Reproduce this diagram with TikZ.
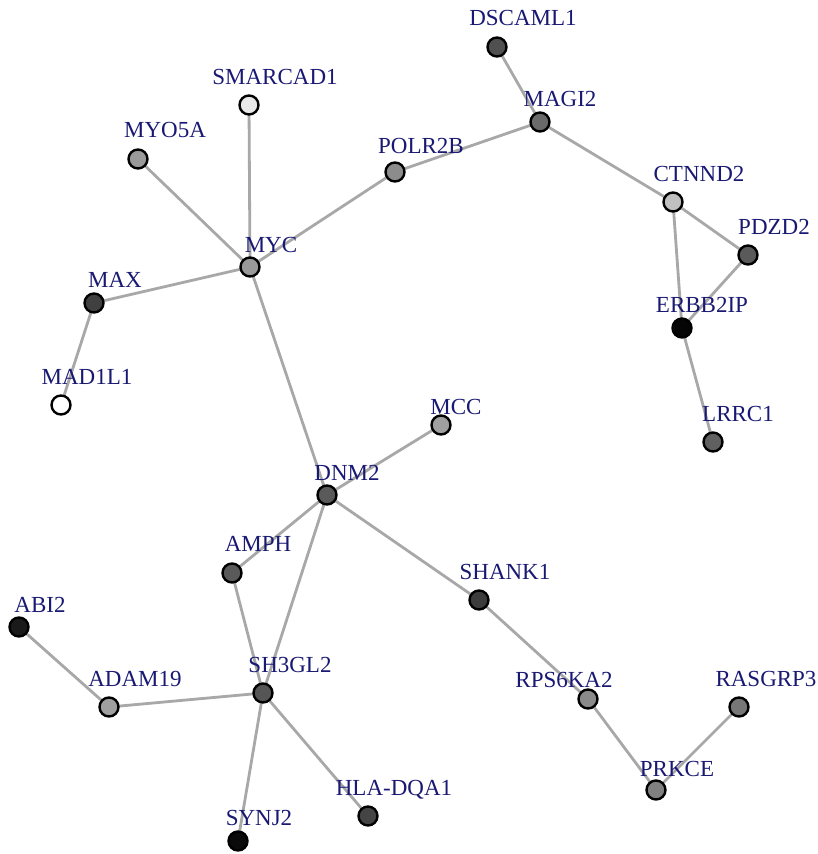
\documentclass[tikz,border=0pt]{standalone}
\usepackage{fontspec}
\setmainfont{Liberation Serif}
\newfontfamily\labfont{Liberation Serif}
\usetikzlibrary{backgrounds}
\definecolor{lab}{RGB}{25,25,115}
\definecolor{edgec}{RGB}{168,168,168}
\tikzset{
  gn/.style={circle, draw=black, line width=2.4pt, minimum size=19pt, inner sep=0pt},
  edge/.style={draw=edgec, line width=2.8pt},
  lbl/.style={text=lab, font=\labfont\fontsize{23}{23}\selectfont, anchor=base, inner sep=0pt}
}
\newcommand{\gnode}[4]{% name, x, y, fill gray (0-255)
  \definecolor{fc#1}{RGB}{#4,#4,#4}
  \node[gn, fill=fc#1] (#1) at (#2,#3) {};
}
\newcommand{\glabel}[4]{% name, x, ymid, text
  \node[lbl] (l-#1) at (#2,#3+7.6) {#4};
}
\begin{document}
\begin{tikzpicture}[x=1pt,y=-1pt]
\useasboundingbox (0,0) rectangle (818,854);
% nodes
\gnode{DSCAML1}{497}{47}{80}
\gnode{MAGI2}{540}{122}{106}
\gnode{SMARCAD1}{249}{105}{232}
\gnode{MYO5A}{138}{159}{154}
\gnode{POLR2B}{395}{172}{140}
\gnode{CTNND2}{673}{202}{192}
\gnode{PDZD2}{748}{255}{90}
\gnode{MYC}{250}{267}{153}
\gnode{MAX}{94}{303}{64}
\gnode{ERBB2IP}{682}{328}{5}
\gnode{MADoneLone}{61}{405}{255}
\gnode{LRRC1}{713}{442}{96}
\gnode{MCC}{441}{425}{160}
\gnode{DNM2}{327}{495}{90}
\gnode{AMPH}{232}{573}{90}
\gnode{SHANK1}{479}{600}{60}
\gnode{ABI2}{19}{627}{26}
\gnode{ADAM19}{109}{707}{160}
\gnode{SH3GL2}{263}{693}{85}
\gnode{RPS6KA2}{588}{699}{138}
\gnode{RASGRP3}{739}{707}{119}
\gnode{PRKCE}{656}{790}{128}
\gnode{HLADQA1}{368}{816}{68}
\gnode{SYNJ2}{238}{841}{10}
% edges behind nodes
\begin{pgfonlayer}{background}
\draw[edge] (DSCAML1.center) -- (MAGI2.center);
\draw[edge] (MAGI2.center) -- (POLR2B.center);
\draw[edge] (MAGI2.center) -- (CTNND2.center);
\draw[edge] (POLR2B.center) -- (MYC.center);
\draw[edge] (SMARCAD1.center) -- (MYC.center);
\draw[edge] (MYO5A.center) -- (MYC.center);
\draw[edge] (MAX.center) -- (MYC.center);
\draw[edge] (MAX.center) -- (MADoneLone.center);
\draw[edge] (MYC.center) -- (DNM2.center);
\draw[edge] (CTNND2.center) -- (PDZD2.center);
\draw[edge] (CTNND2.center) -- (ERBB2IP.center);
\draw[edge] (PDZD2.center) -- (ERBB2IP.center);
\draw[edge] (ERBB2IP.center) -- (LRRC1.center);
\draw[edge] (DNM2.center) -- (MCC.center);
\draw[edge] (DNM2.center) -- (AMPH.center);
\draw[edge] (DNM2.center) -- (SH3GL2.center);
\draw[edge] (DNM2.center) -- (SHANK1.center);
\draw[edge] (SHANK1.center) -- (RPS6KA2.center);
\draw[edge] (RPS6KA2.center) -- (PRKCE.center);
\draw[edge] (PRKCE.center) -- (RASGRP3.center);
\draw[edge] (AMPH.center) -- (SH3GL2.center);
\draw[edge] (ABI2.center) -- (ADAM19.center);
\draw[edge] (ADAM19.center) -- (SH3GL2.center);
\draw[edge] (SH3GL2.center) -- (SYNJ2.center);
\draw[edge] (SH3GL2.center) -- (HLADQA1.center);
\end{pgfonlayer}
% labels
\glabel{DSCAML1}{523}{18}{DSCAML1}
\glabel{MAGI2}{560}{99}{MAGI2}
\glabel{SMARCAD1}{275}{77}{SMARCAD1}
\glabel{MYO5A}{165}{130}{MYO5A}
\glabel{POLR2B}{421}{146}{POLR2B}
\glabel{CTNND2}{699}{174}{CTNND2}
\glabel{PDZD2}{774}{227}{PDZD2}
\glabel{MYC}{271}{245}{MYC}
\glabel{MAX}{115}{280}{MAX}
\glabel{ERBB2IP}{702}{305}{ERBB2IP}
\glabel{MADoneLone}{87}{377}{MAD1L1}
\glabel{LRRC1}{738}{414}{LRRC1}
\glabel{MCC}{456}{407}{MCC}
\glabel{DNM2}{347}{473}{DNM2}
\glabel{AMPH}{258}{544}{AMPH}
\glabel{SHANK1}{505}{572}{SHANK1}
\glabel{ABI2}{40}{605}{ABI2}
\glabel{ADAM19}{135}{679}{ADAM19}
\glabel{SH3GL2}{290}{665}{SH3GL2}
\glabel{RPS6KA2}{564}{680}{RPS6KA2}
\glabel{RASGRP3}{766}{679}{RASGRP3}
\glabel{PRKCE}{677}{769}{PRKCE}
\glabel{HLADQA1}{394}{788}{HLA-DQA1}
\glabel{SYNJ2}{259}{818}{SYNJ2}
\end{tikzpicture}
\end{document}
